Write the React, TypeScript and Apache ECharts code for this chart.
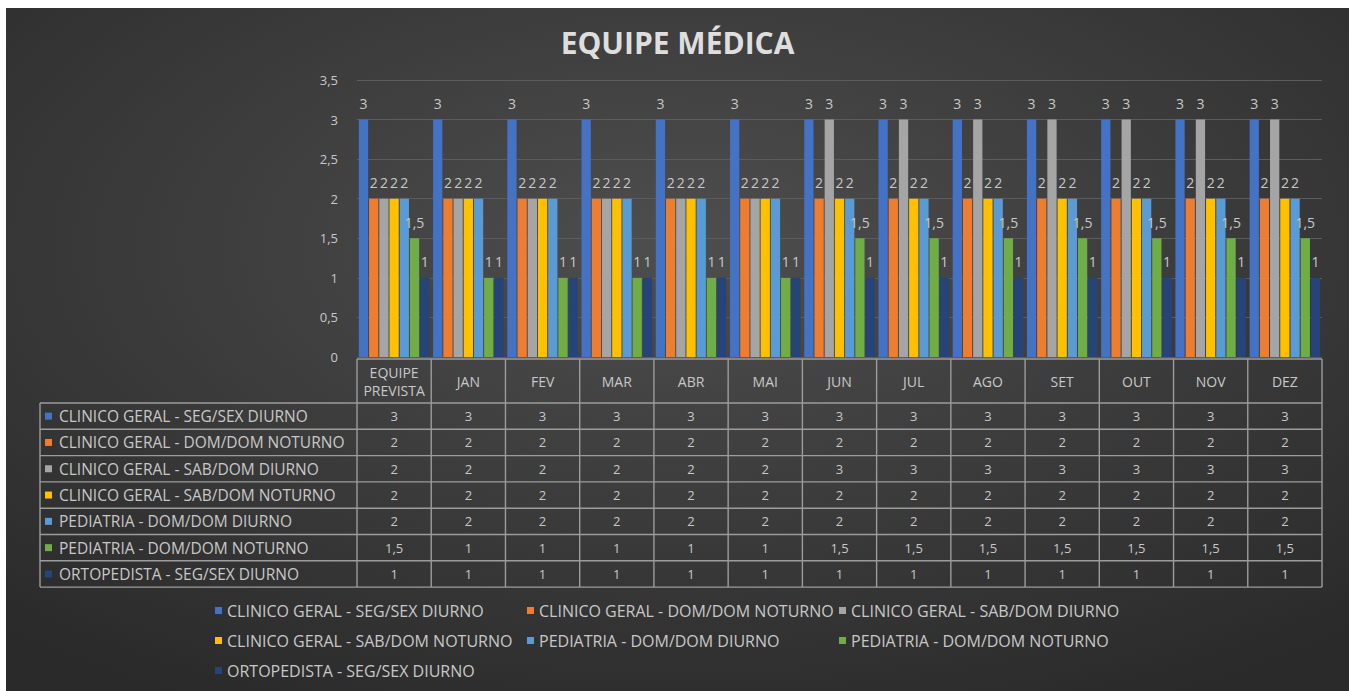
import React, { useEffect, useRef } from "react";
import * as echarts from "echarts";

const categories = ["EQUIPE\nPREVISTA", "JAN", "FEV", "MAR", "ABR", "MAI", "JUN", "JUL", "AGO", "SET", "OUT", "NOV", "DEZ"];
const seriesNames = [
  "CLINICO GERAL - SEG/SEX DIURNO",
  "CLINICO GERAL - DOM/DOM NOTURNO",
  "CLINICO GERAL - SAB/DOM DIURNO",
  "CLINICO GERAL - SAB/DOM NOTURNO",
  "PEDIATRIA - DOM/DOM DIURNO",
  "PEDIATRIA - DOM/DOM NOTURNO",
  "ORTOPEDISTA - SEG/SEX DIURNO",
];
const seriesColors = ["#4472C4", "#ED7D31", "#A5A5A5", "#FFC000", "#5B9BD5", "#70AD47", "#264478"];

const clinicoSegSexDiurno = [3, 3, 3, 3, 3, 3, 3, 3, 3, 3, 3, 3, 3];
const clinicoDomDomNoturno = [2, 2, 2, 2, 2, 2, 2, 2, 2, 2, 2, 2, 2];
const clinicoSabDomDiurno = [2, 2, 2, 2, 2, 2, 3, 3, 3, 3, 3, 3, 3];
const clinicoSabDomNoturno = [2, 2, 2, 2, 2, 2, 2, 2, 2, 2, 2, 2, 2];
const pediatriaDomDomDiurno = [2, 2, 2, 2, 2, 2, 2, 2, 2, 2, 2, 2, 2];
const pediatriaDomDomNoturno = [1.5, 1, 1, 1, 1, 1, 1.5, 1.5, 1.5, 1.5, 1.5, 1.5, 1.5];
const ortopedistaSegSexDiurno = [1, 1, 1, 1, 1, 1, 1, 1, 1, 1, 1, 1, 1];

const seriesData = [
  clinicoSegSexDiurno,
  clinicoDomDomNoturno,
  clinicoSabDomDiurno,
  clinicoSabDomNoturno,
  pediatriaDomDomDiurno,
  pediatriaDomDomNoturno,
  ortopedistaSegSexDiurno,
];

const yMin = 0;
const yMax = 3.5;
const yInterval = 0.5;

const FONT = "Open Sans";
const TEXT = "#c8c8c8";
const BORDER = "#9c9c9c";
const fmt = (v: number) => String(v).replace(".", ",");

export default function App() {
  const ref = useRef<HTMLDivElement>(null);
  useEffect(() => {
    if (!ref.current) return;
    const prevMargin = document.body.style.margin;
    document.body.style.margin = "8px 0 0 6px";
    const chart = echarts.init(ref.current, null, { renderer: "svg" });
    const option: any = {
      animation: false,
      backgroundColor: {
        type: "radial",
        x: 0.5,
        y: 0.35,
        r: 0.75,
        colorStops: [
          { offset: 0, color: "#4e4e4e" },
          { offset: 1, color: "#2a2a2a" },
        ],
      },
      textStyle: { fontFamily: FONT },
      title: {
        text: "EQUIPE MÉDICA",
        left: "center",
        top: 14,
        textStyle: { color: "#dedede", fontSize: 30, fontWeight: "bold", fontFamily: FONT },
      },
      grid: { left: 351, right: 27, top: 72, bottom: 334 },
      xAxis: {
        type: "category",
        data: categories,
        axisLine: { show: false },
        axisTick: { show: false },
        axisLabel: { show: false },
      },
      yAxis: {
        type: "value",
        min: yMin,
        max: yMax,
        interval: yInterval,
        axisLine: { show: false },
        axisTick: { show: false },
        axisLabel: { color: TEXT, fontSize: 13, margin: 19, formatter: (v: number) => fmt(v) },
        splitLine: { lineStyle: { color: "#5c5c5c", width: 1 } },
      },
      legend: [
        { idx: [0, 3, 6], left: 204 },
        { idx: [1, 4], left: 516 },
        { idx: [2, 5], left: 828 },
      ].map((l) => ({
        data: l.idx.map((i) => seriesNames[i]),
        left: l.left,
        top: 589,
        orient: "vertical",
        icon: "rect",
        itemWidth: 7,
        itemHeight: 7,
        itemGap: 13,
        textStyle: { color: TEXT, fontSize: 16, lineHeight: 17, fontFamily: FONT },
      })),
      series: seriesNames.map((name, i) => ({
        name,
        type: "bar",
        data: seriesData[i],
        barGap: "10%",
        barCategoryGap: "5%",
        itemStyle: { color: seriesColors[i] },
        label: {
          show: true,
          position: "top",
          distance: 9,
          color: TEXT,
          fontSize: 14,
          formatter: (p: any) => fmt(p.value),
        },
      })),
    };
    chart.setOption(option);

    const n = categories.length;
    const xs = categories.map((_, i) => chart.convertToPixel({ xAxisIndex: 0 }, i) as number);
    const step = xs[1] - xs[0];
    const left = xs[0] - step / 2;
    const right = xs[n - 1] + step / 2;
    const y0 = chart.convertToPixel({ yAxisIndex: 0 }, 0) as number;
    const headerTop = y0 + 2;
    const headerH = 44;
    const rowH = 26.3;
    const headerBottom = headerTop + headerH;
    const bottom = headerBottom + rowH * seriesNames.length;
    const labelLeft = 34;

    const lineStyle = { stroke: BORDER, lineWidth: 1.4 };
    const g: any[] = [];
    g.push({ type: "line", shape: { x1: left, y1: headerTop, x2: right, y2: headerTop }, style: lineStyle });
    for (let r = 0; r <= seriesNames.length; r++) {
      const y = headerBottom + r * rowH;
      g.push({ type: "line", shape: { x1: labelLeft, y1: y, x2: right, y2: y }, style: lineStyle });
    }
    g.push({ type: "line", shape: { x1: labelLeft, y1: headerBottom, x2: labelLeft, y2: bottom }, style: lineStyle });
    for (let c = 0; c <= n; c++) {
      const x = left + c * step;
      g.push({ type: "line", shape: { x1: x, y1: headerTop, x2: x, y2: bottom }, style: lineStyle });
    }
    categories.forEach((cat, i) => {
      g.push({
        type: "text",
        x: xs[i],
        y: headerTop + headerH / 2,
        style: {
          text: cat,
          fill: TEXT,
          font: `14px "${FONT}"`,
          align: "center",
          verticalAlign: "middle",
          lineHeight: 18,
        },
      });
    });
    seriesNames.forEach((name, r) => {
      const cy = headerBottom + r * rowH + rowH / 2;
      g.push({
        type: "rect",
        shape: { x: labelLeft + 5, y: cy - 3.5, width: 7, height: 7 },
        style: { fill: seriesColors[r] },
      });
      g.push({
        type: "text",
        x: labelLeft + 19,
        y: cy,
        style: { text: name, fill: TEXT, font: `15.5px "${FONT}"`, verticalAlign: "middle" },
      });
      seriesData[r].forEach((v, i) => {
        g.push({
          type: "text",
          x: xs[i],
          y: cy,
          style: { text: fmt(v), fill: TEXT, font: `13px "${FONT}"`, align: "center", verticalAlign: "middle" },
        });
      });
    });
    chart.setOption({ graphic: { elements: g } });

    return () => {
      chart.dispose();
      document.body.style.margin = prevMargin;
    };
  }, []);
  return <div ref={ref} style={{ width: 1343, height: 683 }} />;
}
